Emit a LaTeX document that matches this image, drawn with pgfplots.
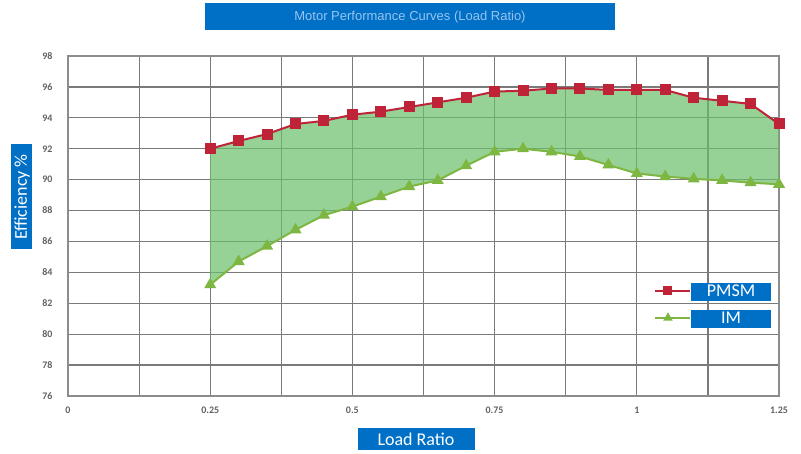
\documentclass[border=0pt]{standalone}
\usepackage{pgfplots}
\pgfplotsset{compat=1.18}
\usepgfplotslibrary{fillbetween}
\usepackage{fontspec}
\setmainfont{Carlito}
\newfontfamily\arial{Liberation Sans}
\definecolor{boxblue}{RGB}{0,112,198}
\definecolor{pmsm}{RGB}{190,35,55}
\definecolor{imc}{RGB}{125,182,65}
\definecolor{fillg}{RGB}{105,190,105}
\definecolor{titletxt}{RGB}{150,195,240}
\newcommand{\legbox}[1]{\setlength{\fboxsep}{0pt}\colorbox{boxblue}{\makebox[80pt]{\rule[-4.5pt]{0pt}{18pt}\color{white}#1}}}
\begin{document}
\begin{tikzpicture}
\begin{axis}[
  at={(0pt,0pt)}, anchor=south west,
  scale only axis, width=711pt, height=340pt,
  xmin=0, xmax=1.25, ymin=76, ymax=98,
  xtick={0,0.25,0.5,0.75,1,1.25},
  xticklabels={0,0.25,0.5,0.75,1,1.25},
  minor xtick={0.125,0.375,0.625,0.875,1.125},
  ytick={76,78,...,98},
  grid=both,
  major grid style={draw=black!52, line width=1.2pt},
  minor grid style={draw=black!52, line width=1.2pt},
  axis line style={draw=black!45, line width=1.2pt},
  tick style={draw=none},
  /pgf/number format/assume math mode=true,
  ticklabel style={font=\fontsize{10}{11}\selectfont\bfseries, text=black!62},
  xticklabel style={yshift=-7pt},
  yticklabel style={xshift=-12pt},
  legend style={at={(rel axis cs:0.989,0.332)}, anchor=north east, draw=none, fill=none,
    row sep=12pt, font=\fontsize{18}{19}\selectfont, inner sep=0pt,
    nodes={inner sep=0pt}},
  legend cell align=left,
  legend image code/.code={
    \draw[#1, mark size=3.5pt, mark repeat=2, mark phase=2] plot coordinates {(0pt,0pt) (13pt,0pt) (35pt,0pt)};
  },
]
\addplot[name path=P, pmsm, line width=2pt, mark=square*, mark size=4.5pt, mark options={solid, fill=pmsm}] coordinates {
(0.25,92.0)(0.30,92.5)(0.35,92.95)(0.40,93.6)(0.45,93.8)(0.50,94.2)(0.55,94.4)(0.60,94.7)(0.65,95.0)(0.70,95.3)
(0.75,95.7)(0.80,95.75)(0.85,95.9)(0.90,95.9)(0.95,95.8)(1.00,95.8)(1.05,95.8)(1.10,95.3)(1.15,95.1)(1.20,94.9)(1.25,93.6)};
\addlegendentry{\legbox{PMSM}}
\addplot[name path=I, imc, line width=2pt, mark=triangle*, mark size=5pt, mark options={solid, fill=imc}] coordinates {
(0.25,83.2)(0.30,84.7)(0.35,85.7)(0.40,86.75)(0.45,87.7)(0.50,88.25)(0.55,88.9)(0.60,89.55)(0.65,89.95)(0.70,90.9)
(0.75,91.8)(0.80,92.0)(0.85,91.8)(0.90,91.5)(0.95,90.95)(1.00,90.4)(1.05,90.2)(1.10,90.05)(1.15,89.95)(1.20,89.8)(1.25,89.7)};
\addlegendentry{\legbox{IM}}
\addplot[fillg, fill opacity=0.7, draw=none] fill between[of=P and I];
\end{axis}
\node[fill=boxblue, minimum width=410pt, minimum height=27pt, inner sep=0pt,
  font=\arial\fontsize{13}{14}\selectfont, text=titletxt] at (342pt,379pt) {Motor Performance Curves (Load Ratio)};
\node[fill=boxblue, rotate=90, minimum width=105pt, minimum height=21pt, inner sep=0pt, font=\fontsize{18}{19}\selectfont, text=white] at (-46pt,199pt) {Efficiency \%};
\node[fill=boxblue, minimum width=117pt, minimum height=22pt, inner sep=0pt, font=\fontsize{18}{19}\selectfont, text=white] at (348pt,-43pt) {Load Ratio};
\path (-68pt,-58pt) rectangle (733pt,396pt);
\end{tikzpicture}
\end{document}
